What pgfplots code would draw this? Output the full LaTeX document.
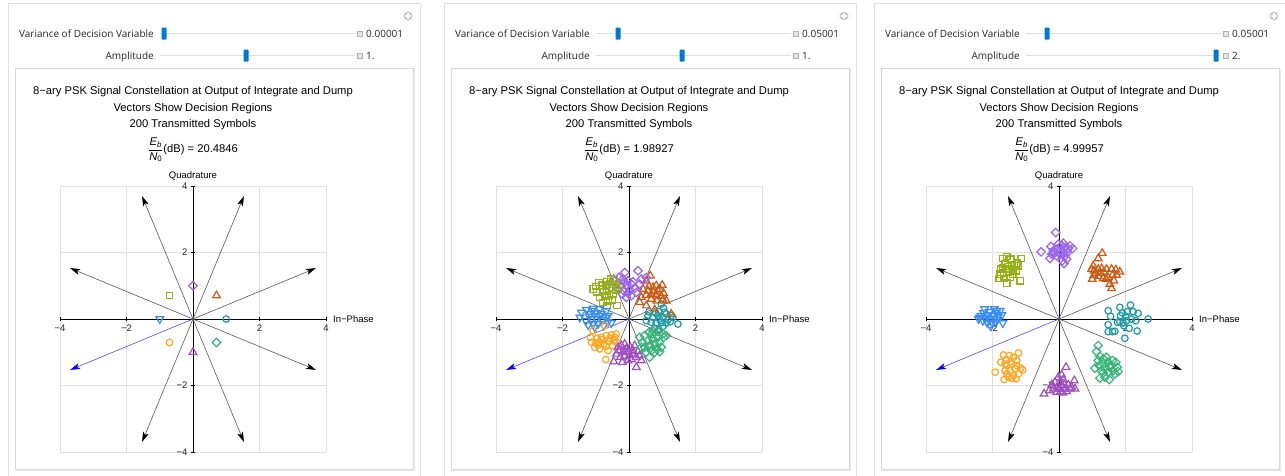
\documentclass[border=0pt]{standalone}
\usepackage{amsmath}
\usepackage{fontspec}
\setmainfont{Liberation Sans}
\newfontfamily\uifont{Open Sans}
\usepackage{pgfplots}
\pgfplotsset{compat=1.18}
\usetikzlibrary{arrows.meta}

\definecolor{cA}{RGB}{30,155,165}
\definecolor{cB}{RGB}{200,90,20}
\definecolor{cC}{RGB}{155,100,240}
\definecolor{cD}{RGB}{150,178,25}
\definecolor{cE}{RGB}{55,140,245}
\definecolor{cF}{RGB}{255,165,30}
\definecolor{cG}{RGB}{160,80,190}
\definecolor{cH}{RGB}{55,180,120}
\definecolor{handle}{RGB}{0,120,215}

\newcommand\titlesz{\fontsize{11.2bp}{13bp}\selectfont}
\newcommand\labsz{\fontsize{9.5bp}{11bp}\selectfont}
\newcommand\ticksz{\fontsize{9.5bp}{10bp}\selectfont}
\newcommand\uisz{\uifont\fontsize{10bp}{11bp}\selectfont}

\pgfplotsset{
  const/.style={
    scale only axis, width=266bp, height=266bp,
    xmin=-4, xmax=4, ymin=-4, ymax=4,
    axis lines=middle,
    axis line style={black, line width=0.6bp},
    every inner x axis line/.append style={-},
    every inner y axis line/.append style={-},
    xtick={-4,-2,2,4}, ytick={-4,-2,2,4},
    xticklabels={−4,−2,2,4}, yticklabels={−4,−2,2,4},
    minor tick num=3,
    grid=major,
    major grid style={draw=black!12, line width=0.8bp},
    major tick length=4bp, minor tick length=2bp,
    tick style={black, line width=0.5bp},
    tick label style={font=\ticksz, text=black!85},
    anchor=south west,
  },
  arr/.style={no markers, line width=0.6bp, draw=black!65,
    -{Stealth[length=10bp,width=6bp,inset=2.5bp,color=black]}},
  arrb/.style={no markers, line width=0.6bp, draw=blue!70!white,
    -{Stealth[length=10bp,width=6bp,inset=2.5bp,color=blue]}},
  mk/.style={only marks, line width=1.2bp, mark size=#1},
  sA/.style={mk=3.3, mark=o, color=cA},
  sB/.style={mk=4.4, mark=triangle, color=cB},
  sC/.style={mk=3.0, mark=square, mark options={rotate=45}, color=cC},
  sD/.style={mk=3.2, mark=square, color=cD},
  sE/.style={mk=4.4, mark=triangle, mark options={rotate=180}, color=cE},
  sF/.style={mk=3.3, mark=o, color=cF},
  sG/.style={mk=4.4, mark=triangle, color=cG},
  sH/.style={mk=3.0, mark=square, mark options={rotate=45}, color=cH},
}

% decision region vectors
\newcommand\decarrows{%
  \addplot[arr] coordinates {(0,0) (3.696,1.531)};
  \addplot[arr] coordinates {(0,0) (1.531,3.696)};
  \addplot[arr] coordinates {(0,0) (-1.531,3.696)};
  \addplot[arr] coordinates {(0,0) (-3.696,1.531)};
  \addplot[arrb] coordinates {(0,0) (-3.696,-1.531)};
  \addplot[arr] coordinates {(0,0) (-1.531,-3.696)};
  \addplot[arr] coordinates {(0,0) (1.531,-3.696)};
  \addplot[arr] coordinates {(0,0) (3.696,-1.531)};
}

% #1 shift, #2 variance handle, #3 amplitude handle, #4 variance, #5 amplitude, #6 Eb/N0
\newcommand\panel[6]{%
  \begin{scope}[x=1bp,y=-1bp,xshift=#1bp]
    \draw[black!12, line width=1bp] (8,480) -- (8,3) -- (420,3) -- (420,480);
    \draw[black!16, line width=1bp] (15,68) rectangle (413,469);
    \draw[black!9, line width=1bp] (16,470.5) -- (414.5,470.5) -- (414.5,69);
    \fill[black!22] (408,16) circle (4.5);
    \draw[white, line width=1.2bp] (405.3,16) -- (410.7,16) (408,13.3) -- (408,18.7);
    \node[anchor=base east, font=\uisz, text=black!85, inner sep=0] at (154,37) {Variance of Decision Variable};
    \node[anchor=base east, font=\uisz, text=black!85, inner sep=0] at (154,59) {Amplitude};
    \draw[black!13, line width=1.5bp] (160,33.5) -- (355,33.5);
    \draw[black!13, line width=1.5bp] (160,55.5) -- (355,55.5);
    \fill[handle, rounded corners=0.7bp] (#2-2.5,27.5) rectangle (#2+2.5,39.5);
    \fill[handle, rounded corners=0.7bp] (#3-2.5,49.5) rectangle (#3+2.5,61.5);
    \draw[black!30, fill=black!10, line width=0.6bp] (357.5,31) rectangle (362.5,36);
    \draw[black!30, fill=black!10, line width=0.6bp] (357.5,53) rectangle (362.5,58);
    \node[anchor=base west, font=\uisz, text=black!85, inner sep=0] at (366,37) {#4};
    \node[anchor=base west, font=\uisz, text=black!85, inner sep=0] at (366,59) {#5};
    \node[anchor=base, font=\titlesz] at (193,94) {8−ary PSK Signal Constellation at Output of Integrate and Dump};
    \node[anchor=base, font=\titlesz] at (193,111) {Vectors Show Decision Regions};
    \node[anchor=base, font=\titlesz] at (193,127.7) {200 Transmitted Symbols};
    \node[anchor=base, font=\titlesz] at (193,152.7)
      {$\dfrac{\text{\itshape E}_{\text{\itshape b}}}{\text{\itshape N}_{\text{0}}}$(dB) = #6};
    \node[anchor=base, font=\labsz] at (193,178.5) {Quadrature};
    \node[anchor=west, font=\labsz, inner sep=0] at (333,319) {In−Phase};
  \end{scope}
}

\begin{document}
\begin{tikzpicture}
\fill[white] (0,0) rectangle (1285bp,-476bp);
\path[use as bounding box] (0,0) rectangle (1285bp,-476bp);

\panel{0}{164}{246}{0.00001}{1.}{20.4846}
\panel{436}{182}{246}{0.05001}{1.}{1.98927}
\panel{866}{181}{350}{0.05001}{2.}{4.99957}

% panel 1: variance 0.00001, amplitude 1
\begin{axis}[const, at={(60bp,-452bp)}]
\decarrows
\addplot[sA] coordinates {(1,0)};
\addplot[sB] coordinates {(0.707,0.707)};
\addplot[sC] coordinates {(0,1)};
\addplot[sD] coordinates {(-0.707,0.707)};
\addplot[sE] coordinates {(-1,0)};
\addplot[sF] coordinates {(-0.707,-0.707)};
\addplot[sG] coordinates {(0,-1)};
\addplot[sH] coordinates {(0.707,-0.707)};
\end{axis}

% panel 2: variance 0.05001, amplitude 1
\begin{axis}[const, at={(496bp,-452bp)}]
\decarrows
\addplot[sA] coordinates {(0.97,0.45) (1.04,0.32) (0.90,0.22) (1.12,0.15) (1.27,0.10) (0.57,0.10) (0.72,0.05) (0.87,0.10) (1.02,0.05) (1.17,-0.02) (0.67,-0.10) (0.82,-0.12) (0.97,-0.10) (1.12,-0.12) (0.52,-0.05) (0.77,-0.28) (0.90,-0.32) (1.02,-0.22) (1.47,-0.15) (0.60,0.22) (1.24,-0.08) (0.92,0.00) (1.07,0.20) (0.80,0.18) (1.32,0.05)};
\addplot[sB] coordinates {(0.64,1.30) (0.52,1.15) (0.72,0.95) (0.82,1.00) (1.00,1.02) (0.37,0.65) (0.52,0.72) (0.67,0.75) (0.82,0.70) (0.97,0.68) (1.12,0.55) (0.42,0.90) (0.57,0.85) (0.72,0.82) (0.87,0.85) (1.04,0.78) (0.67,0.60) (0.84,0.55) (0.52,0.40) (0.77,0.28) (1.27,0.15) (0.92,0.90) (0.60,0.98) (0.32,0.50) (1.02,0.58)};
\addplot[sC] coordinates {(-0.13,1.40) (0.27,1.45) (-0.30,1.25) (-0.18,1.20) (-0.03,1.15) (0.12,1.12) (0.37,1.20) (0.52,1.25) (-0.66,1.02) (-0.38,1.05) (-0.23,1.00) (-0.08,1.00) (0.07,1.05) (0.32,1.05) (-0.33,0.90) (-0.16,0.85) (0.02,0.88) (0.22,0.80) (-0.20,0.75) (-0.08,0.65) (0.07,0.70) (-0.46,1.20) (0.17,0.92) (-0.13,1.10) (-0.03,0.78)};
\addplot[sD] coordinates {(-0.90,1.10) (-1.00,0.98) (-0.83,1.02) (-0.68,1.12) (-0.43,1.18) (-0.58,1.05) (-0.38,1.02) (-0.96,0.82) (-0.80,0.88) (-0.68,0.85) (-0.53,0.90) (-0.40,0.88) (-0.88,0.65) (-0.73,0.70) (-0.60,0.72) (-0.46,0.75) (-0.78,0.50) (-0.63,0.55) (-0.50,0.58) (-0.36,0.40) (-0.66,0.40) (-0.30,0.95) (-1.08,0.90) (-0.56,1.20) (-0.70,0.98)};
\addplot[sE] coordinates {(-1.43,0.20) (-1.28,0.28) (-1.08,0.32) (-0.88,0.30) (-0.68,0.25) (-1.16,0.15) (-1.00,0.18) (-0.83,0.15) (-0.63,0.10) (-1.30,-0.05) (-1.13,0.00) (-0.98,0.02) (-0.80,-0.02) (-0.63,-0.08) (-1.23,-0.18) (-1.08,-0.15) (-0.93,-0.15) (-0.76,-0.20) (-0.53,-0.12) (-1.03,-0.25) (-1.48,0.05) (-0.90,0.10) (-1.20,0.08) (-0.70,0.05) (-1.10,0.25)};
\addplot[sF] coordinates {(-1.08,-0.35) (-0.73,-0.20) (-1.13,-0.70) (-1.00,-0.72) (-0.83,-0.55) (-0.68,-0.50) (-0.53,-0.48) (-0.38,-0.45) (-0.90,-0.70) (-0.76,-0.75) (-0.60,-0.68) (-0.46,-0.65) (-0.38,-0.70) (-1.03,-0.85) (-0.88,-0.90) (-0.68,-0.82) (-0.50,-0.80) (-0.70,-1.22) (-0.96,-0.58) (-0.58,-0.58) (-1.16,-0.55) (-0.43,-0.55) (-0.80,-0.62) (-0.63,-0.95) (-0.93,-0.78)};
\addplot[sG] coordinates {(-0.46,-1.28) (-0.23,-0.80) (-0.13,-0.75) (-0.30,-0.95) (-0.18,-0.98) (-0.08,-0.90) (0.04,-0.85) (0.17,-0.80) (-0.26,-1.15) (-0.13,-1.12) (0.02,-1.10) (0.12,-1.05) (0.22,-1.15) (0.07,-1.22) (-0.03,-1.25) (0.22,-1.45) (0.37,-1.25) (-0.10,-1.00) (-0.38,-1.05) (0.12,-0.95) (0.32,-1.10) (-0.20,-1.30) (0.00,-0.98) (0.27,-0.98) (-0.33,-0.85)};
\addplot[sH] coordinates {(0.32,-0.55) (0.47,-0.50) (0.60,-0.40) (0.72,-0.35) (0.87,-0.38) (1.02,-0.45) (0.40,-0.70) (0.57,-0.65) (0.72,-0.60) (0.87,-0.55) (1.04,-0.55) (0.47,-0.85) (0.62,-0.80) (0.77,-0.75) (0.92,-0.70) (0.52,-1.00) (0.67,-0.95) (0.82,-0.90) (0.97,-0.85) (0.62,-1.15) (0.77,-1.00) (0.92,-0.98) (1.12,-0.50) (0.37,-0.85) (0.70,-0.45)};
\end{axis}

% panel 3: variance 0.05001, amplitude 2
\begin{axis}[const, at={(926bp,-452bp)}]
\decarrows
\addplot[sA] coordinates {(1.48,0.25) (1.55,0.08) (1.83,0.35) (1.91,0.18) (2.15,0.42) (2.05,0.22) (2.23,0.22) (2.38,0.17) (2.68,0.00) (1.48,-0.17) (1.61,-0.38) (1.68,-0.37) (1.48,-0.38) (1.76,-0.10) (1.93,-0.12) (2.03,-0.05) (2.11,-0.28) (2.35,-0.36) (1.98,-0.58) (1.85,0.10) (2.01,0.08) (2.18,0.00) (2.31,-0.05) (1.95,-0.20) (1.83,-0.08)};
\addplot[sB] coordinates {(1.30,1.98) (1.18,1.82) (1.03,1.60) (0.98,1.50) (1.05,1.45) (1.18,1.50) (1.28,1.52) (1.43,1.50) (1.58,1.50) (1.71,1.48) (1.83,1.42) (1.00,1.20) (1.18,1.28) (1.33,1.22) (1.48,1.25) (1.61,1.32) (1.73,1.32) (1.53,1.05) (1.58,0.92) (1.41,1.20) (1.25,1.38) (1.11,1.38) (1.35,1.42) (1.65,1.15) (1.05,1.32)};
\addplot[sC] coordinates {(-0.10,2.60) (-0.54,2.02) (-0.24,2.18) (-0.17,2.05) (-0.07,2.10) (-0.02,2.25) (0.08,2.22) (0.13,2.28) (0.18,2.15) (0.28,2.12) (0.41,2.12) (0.33,2.20) (0.13,2.00) (0.03,1.95) (-0.07,1.90) (-0.27,1.82) (0.18,1.90) (0.10,1.75) (0.15,1.67) (0.23,1.80) (-0.12,2.00) (0.05,2.07) (0.25,2.00) (-0.02,2.02) (-0.22,1.95)};
\addplot[sD] coordinates {(-1.57,1.88) (-1.69,1.82) (-1.70,1.55) (-1.55,1.58) (-1.42,1.62) (-1.27,1.68) (-1.14,1.82) (-1.67,1.38) (-1.52,1.40) (-1.37,1.48) (-1.22,1.60) (-1.80,1.22) (-1.65,1.22) (-1.47,1.25) (-1.57,1.08) (-1.17,1.15) (-1.75,1.50) (-1.62,1.65) (-1.45,1.80) (-1.35,1.60) (-1.49,1.52) (-1.77,1.35) (-1.39,1.35) (-1.29,1.45) (-1.59,1.50)};
\addplot[sE] coordinates {(-2.42,0.00) (-2.35,0.10) (-2.24,0.30) (-2.12,0.12) (-1.95,0.30) (-1.89,0.18) (-1.77,0.25) (-2.07,0.00) (-1.95,0.02) (-1.85,-0.02) (-1.69,-0.12) (-2.17,-0.10) (-2.05,-0.22) (-2.29,-0.05) (-2.39,0.05) (-1.72,0.12) (-1.97,0.12) (-2.22,0.02) (-2.09,0.22) (-1.82,0.08) (-1.92,-0.10) (-2.15,0.05) (-2.27,0.18) (-2.02,-0.12) (-1.87,0.25)};
\addplot[sF] coordinates {(-1.67,-1.08) (-1.59,-1.22) (-1.49,-1.10) (-1.37,-1.15) (-1.22,-1.02) (-1.27,-1.25) (-1.42,-1.35) (-1.57,-1.40) (-1.62,-1.55) (-1.92,-1.60) (-1.65,-1.82) (-1.52,-1.75) (-1.37,-1.70) (-1.22,-1.65) (-1.09,-1.53) (-1.32,-1.50) (-1.47,-1.55) (-1.29,-1.80) (-1.15,-1.48) (-1.75,-1.30) (-1.62,-1.35) (-1.45,-1.28) (-1.27,-1.40) (-1.57,-1.65) (-1.42,-1.78)};
\addplot[sG] coordinates {(0.21,-1.45) (0.08,-1.68) (0.46,-1.85) (-0.22,-1.98) (-0.45,-2.25) (-0.17,-2.10) (-0.05,-2.05) (0.08,-2.00) (0.18,-2.10) (0.33,-2.10) (0.48,-2.10) (0.03,-1.90) (0.13,-1.82) (-0.07,-2.20) (0.05,-2.18) (0.23,-2.18) (0.38,-2.05) (-0.12,-1.90) (-0.02,-1.75) (-0.29,-2.15) (0.15,-1.95) (-0.19,-2.00) (0.28,-1.98) (0.01,-2.10) (0.11,-2.22)};
\addplot[sH] coordinates {(1.18,-0.80) (1.13,-0.98) (1.23,-1.12) (1.33,-1.20) (1.08,-1.48) (1.21,-1.40) (1.33,-1.35) (1.48,-1.30) (1.61,-1.25) (1.71,-1.30) (1.75,-1.45) (1.63,-1.55) (1.48,-1.60) (1.33,-1.62) (1.23,-1.78) (1.38,-1.75) (1.51,-1.82) (1.68,-1.65) (1.78,-1.58) (1.53,-1.45) (1.38,-1.48) (1.28,-1.55) (1.43,-1.15) (1.55,-1.38) (1.18,-1.25)};
\end{axis}
\end{tikzpicture}
\end{document}
